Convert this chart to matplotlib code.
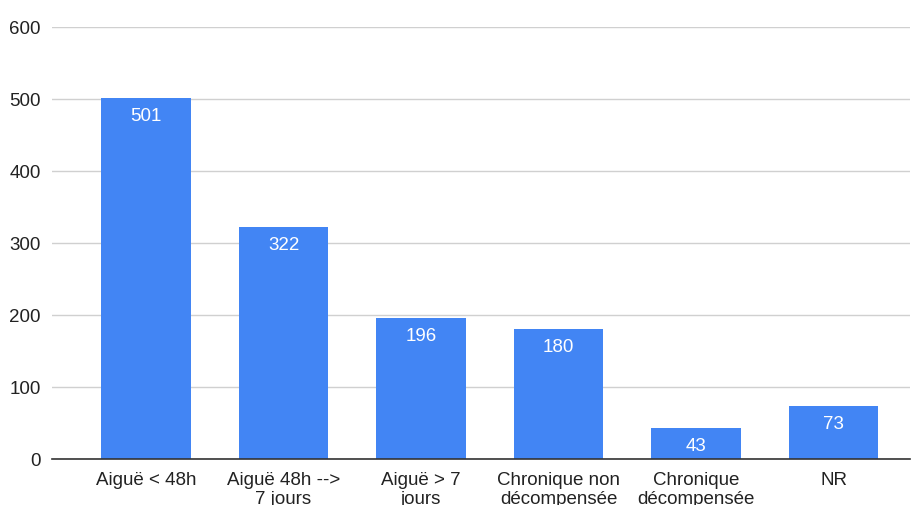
import matplotlib.pyplot as plt

categories = ["Aiguë < 48h", "Aiguë 48h -->\n7 jours", "Aiguë > 7\njours",
              "Chronique non\ndécompensée", "Chronique\ndécompensée", "NR"]
values = [501, 322, 196, 180, 43, 73]
y_ticks = [0, 100, 200, 300, 400, 500, 600]

plt.rcParams['font.family'] = ['Liberation Sans', 'DejaVu Sans']

fig = plt.figure(figsize=(9.12, 5.06), dpi=100)
ax = fig.add_axes([52 / 912, 46 / 506, 858 / 912, 432 / 506])

x = list(range(len(values)))
bars = ax.bar(x, values, width=0.65, color='#4285f4', zorder=2)

# value labels inside the top of each bar
for xi, v in zip(x, values):
    ax.annotate(str(v), (xi, v), xytext=(0, -12.5), textcoords='offset points',
                ha='center', va='center', color='white', fontsize=13.5, zorder=3)

ax.set_xlim(-0.684, 5.556)
ax.set_ylim(0, 600)
ax.set_yticks(y_ticks)
ax.set_xticks(x)
ax.set_xticklabels(categories, fontsize=13.5, color='#222222', linespacing=1.1)
ax.tick_params(axis='y', labelsize=13.5, labelcolor='#222222', length=0, pad=8)
ax.tick_params(axis='x', length=0, pad=9)

ax.grid(axis='y', color='#d0d0d0', linewidth=1, zorder=0)
for side in ['top', 'right', 'left']:
    ax.spines[side].set_visible(False)
ax.spines['bottom'].set_color('#333333')
ax.spines['bottom'].set_linewidth(1.2)
ax.spines['bottom'].set_zorder(4)

fig.savefig("out.png", dpi=100)
